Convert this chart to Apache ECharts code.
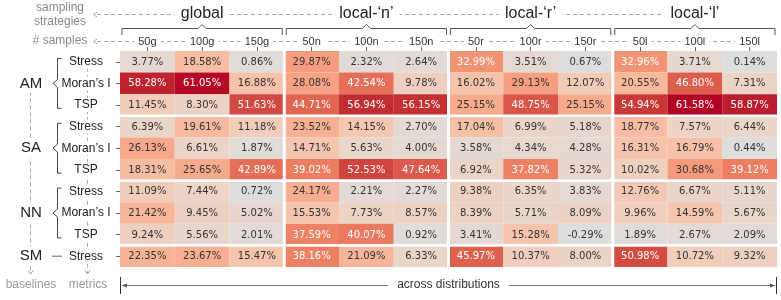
<!DOCTYPE html>
<html><head><meta charset="utf-8">
<script src="https://cdn.jsdelivr.net/npm/echarts@6/dist/echarts.min.js"></script>
<style>html,body{margin:0;padding:0;background:#fff}#c{width:781px;height:300px}</style>
</head><body><div id="c"></div>
<script>
// ---- data ----
const samples = ['50g','100g','150g','50n','100n','150n','50r','100r','150r','50l','100l','150l'];
const strategies = ['global','local-\u2018n\u2019','local-\u2018r\u2019','local-\u2018l\u2019'];
const metrics = ['Stress','Moran\u2019s I','TSP','Stress','Moran\u2019s I','TSP','Stress','Moran\u2019s I','TSP','Stress'];
const baselines = ['AM','SA','NN','SM'];
const baselineRows = [[0,2],[3,5],[6,8],[9,9]];
const AM_stress = [3.77,18.58,0.86,29.87,2.32,2.64,32.99,3.51,0.67,32.96,3.71,0.14];
const AM_moran  = [58.28,61.05,16.88,28.08,42.54,9.78,16.02,29.13,12.07,20.55,46.80,7.31];
const AM_tsp    = [11.45,8.30,51.63,44.71,56.94,56.15,25.15,48.75,25.15,54.94,61.58,58.87];
const SA_stress = [6.39,19.61,11.18,23.52,14.15,2.70,17.04,6.99,5.18,18.77,7.57,6.44];
const SA_moran  = [26.13,6.61,1.87,14.71,5.63,4.00,3.58,4.34,4.28,16.31,16.79,0.44];
const SA_tsp    = [18.31,25.65,42.89,39.02,52.53,47.64,6.92,37.82,5.32,10.02,30.68,39.12];
const NN_stress = [11.09,7.44,0.72,24.17,2.21,2.27,9.38,6.35,3.83,12.76,6.67,5.11];
const NN_moran  = [21.42,9.45,5.02,15.53,7.73,8.57,8.39,5.71,8.09,9.96,14.59,5.67];
const NN_tsp    = [9.24,5.56,2.01,37.59,40.07,0.92,3.41,15.28,-0.29,1.89,2.67,2.09];
const SM_stress = [22.35,23.67,15.47,38.16,21.09,6.33,45.97,10.37,8.00,50.98,10.72,9.32];
const rowsValues = [AM_stress,AM_moran,AM_tsp,SA_stress,SA_moran,SA_tsp,NN_stress,NN_moran,NN_tsp,SM_stress];

const COOLWARM = ['#3b4cc0','#445acc','#4d68d7','#5775e1','#6282ea','#6c8ef1','#779af7','#82a5fb','#8db0fe','#98b9ff','#a3c2ff','#aec9fd','#b8d0f9','#c2d5f4','#ccd9ee','#d5dbe6','#dddddd','#e5d8d1','#ecd3c5','#f1ccb9','#f5c4ad','#f7bba0','#f7b194','#f7a687','#f49a7b','#f18d6f','#ec7f63','#e57059','#de604e','#d55045','#cb3e38','#c0282f','#b40426'];

// ---- layout ----
const GL = 120, GR = 4, GT = 51, GBm = 33, W = 781, H = 300;
const FONT = '"Liberation Sans", Arial, sans-serif';

const cells = [];
rowsValues.forEach((row, r) => row.forEach((v, c) => cells.push([c, r, v])));
const vmax = 61.58;

const chart = echarts.init(document.getElementById('c'), null, {renderer: 'canvas'});

function renderCell(params, api) {
  const x = api.value(0), y = api.value(1), v = api.value(2);
  const c = api.coord([x, y]);
  const s = api.size([1, 1]);
  let x0 = c[0] - s[0] / 2, x1 = c[0] + s[0] / 2, y0 = c[1] - s[1] / 2, y1 = c[1] + s[1] / 2;
  if (x % 3 === 0 && x > 0) x0 += 1.5;
  if (x % 3 === 2 && x < 11) x1 -= 1.5;
  if (y === 3 || y === 6 || y === 9) y0 += 1.3;
  if (y === 2 || y === 5 || y === 8) y1 -= 1.3;
  return {
    type: 'group',
    children: [
      {type: 'rect', shape: {x: x0, y: y0, width: x1 - x0, height: y1 - y0}, style: {fill: api.visual('color')}},
      {type: 'text', style: {text: v.toFixed(2) + '%', x: c[0], y: c[1] + 0.5, align: 'center', verticalAlign: 'middle',
        fill: v > 31 ? '#ffffff' : '#333333', font: '10px "DejaVu Sans"'}}
    ]
  };
}

chart.setOption({
  animation: false,
  textStyle: {fontFamily: FONT},
  grid: {left: GL, right: GR, top: GT, bottom: GBm, containLabel: false},
  xAxis: {
    type: 'category', data: samples, position: 'top', z: 5,
    axisLine: {show: false},
    axisTick: {show: true, alignWithLabel: true, length: 5, lineStyle: {color: '#666'}},
    axisLabel: {fontSize: 11, color: '#333', margin: 4, fontFamily: FONT, backgroundColor: '#fff', padding: [0, 4]},
    splitLine: {show: false}
  },
  yAxis: {
    type: 'category', data: metrics, inverse: true, z: 5,
    axisLine: {show: false},
    axisTick: {show: true, alignWithLabel: true, length: 4, lineStyle: {color: '#666'}},
    axisLabel: {fontSize: 12, color: '#222', margin: 34, align: 'center', fontFamily: FONT, backgroundColor: '#fff', padding: [1, 2]},
    splitLine: {show: false}
  },
  visualMap: {type: 'continuous', show: false, min: -vmax, max: vmax, dimension: 2, seriesIndex: 0, inRange: {color: COOLWARM}},
  series: [{type: 'custom', renderItem: renderCell, data: cells, encode: {x: 0, y: 1}, z: 2}]
});

// ---- annotations ----
const gW = chart.getWidth ? (W - GL - GR) : 657;
const colW = gW / samples.length;
const rowH = (H - GT - GBm) / metrics.length;
const DASH = [4, 3];
const g = [];
function line(x1, y1, x2, y2, color, dash, z) {
  g.push({type: 'line', shape: {x1, y1, x2, y2}, style: {stroke: color, lineWidth: 1, lineDash: dash || null}, z: z || 0, silent: true});
}
function poly(points, color) {
  g.push({type: 'polyline', shape: {points}, style: {stroke: color, lineWidth: 1, fill: null}, z: 1, silent: true});
}
function tri(points, color) {
  g.push({type: 'polygon', shape: {points}, style: {fill: color}, z: 1, silent: true});
}
function text(t, x, y, size, color, bg, pad, lh) {
  g.push({type: 'text', x, y, z: 3, silent: true, style: {text: t, x: 0, y: 0, align: 'center', verticalAlign: 'middle',
    font: size + 'px ' + FONT, fill: color, backgroundColor: bg || null, padding: pad || 0, lineHeight: lh || undefined}});
}

// sampling strategies header row
text('sampling\nstrategies', 60, 14.5, 12, '#888', null, 0, 14);
line(97, 14.5, 668, 14.5, '#aaa', DASH, 0);
poly([[97, 12], [93.5, 14.5], [97, 17]], '#999');
strategies.forEach((s, i) => {
  const x0 = GL + i * 3 * colW, x1 = x0 + 3 * colW, cx = (x0 + x1) / 2;
  text(s, cx, 13.5, 16, '#222', '#fff', [0, 6]);
  poly([[x0 + 2, 35], [x0 + 2, 28.5], [cx - 4, 28.5], [cx, 24.5], [cx + 4, 28.5], [x1 - 2, 28.5], [x1 - 2, 35]], '#555');
});

// # samples row
text('# samples', 60, 41, 12, '#888', null, 0);
line(97, 41.5, GL + 11.5 * colW, 41.5, '#aaa', DASH, 0);
poly([[97, 39], [93.5, 41.5], [97, 44]], '#999');

// baselines
baselines.forEach((b, i) => {
  const r0 = baselineRows[i][0], r1 = baselineRows[i][1];
  const top = GT + r0 * rowH, bot = GT + (r1 + 1) * rowH, cy = (top + bot) / 2;
  text(b, 31, cy, 15, '#222', '#fff', [2, 3]);
  if (r1 > r0) {
    poly([[61.5, top + 7.5], [57.5, top + 7.5], [57.5, cy - 4], [53, cy], [57.5, cy + 4], [57.5, bot - 7.5], [61.5, bot - 7.5]], '#444');
  } else {
    line(52, cy, 62, cy, '#666', null, 1);
  }
});
// vertical dashed guides
line(30.5, GT + 1.5 * rowH + 8, 30.5, 273, '#aaa', DASH, 0);
line(87.5, GT + 0.5 * rowH + 6, 87.5, 273, '#aaa', DASH, 0);
poly([[28, 270.5], [30.5, 274], [33, 270.5]], '#999');
poly([[85, 270.5], [87.5, 274], [90, 270.5]], '#999');
text('baselines', 31, 285, 12, '#999');
text('metrics', 88, 285, 12, '#999');

// across distributions axis
line(120.5, 277, 120.5, 294, '#333', null, 1);
line(776.5, 277, 776.5, 294, '#333', null, 1);
line(122, 285.5, 775, 285.5, '#777', null, 0);
tri([[122, 285.5], [127, 283.5], [127, 287.5]], '#555');
tri([[775, 285.5], [770, 283.5], [770, 287.5]], '#555');
text('across distributions', GL + gW / 2, 285, 12, '#333', '#fff', [0, 9]);

chart.setOption({graphic: {elements: g}});
</script>
</body></html>
